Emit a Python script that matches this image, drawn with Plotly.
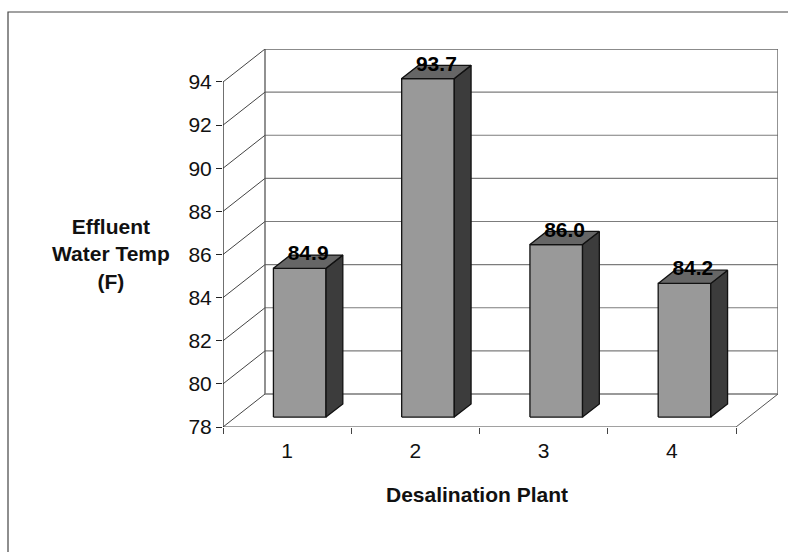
import plotly.graph_objects as go

# ---- data -------------------------------------------------------------
plants = ["1", "2", "3", "4"]
temps = [84.9, 93.7, 86.0, 84.2]
temp_ticks = [78, 80, 82, 84, 86, 88, 90, 92, 94]
value_labels = ["84.9", "93.7", "86.0", "84.2"]

y_title = "Effluent<br>Water Temp<br>(F)"
x_title = "Desalination Plant"

# ---- 3-D look (oblique projection) -----------------------------------
DEPTH_X = 0.3275   # how far the back wall sits to the right (category units)
DEPTH_Y = 1.53     # how far the back wall sits up (temperature units)
BAR_NEAR, BAR_FAR = 0.30, 0.70   # bar depth span as a fraction of the floor depth
BAR_HALF = 0.205                 # half bar width (category units)

Y0, Y1 = temp_ticks[0], temp_ticks[-1]
n = len(plants)
xs = list(range(1, n + 1))
X0, X1 = 0.5, n + 0.5

FONT = "Arial, Liberation Sans, sans-serif"
GRID = "#7c7c7c"
EDGE = "#555555"
FRONT = "#999999"
SIDE = "#3c3c3c"
TOP = "#666666"

# page geometry
W, H = 788, 552
ML, MR, MT, MB = 223, 10, 49, 125
PW, PH = W - ML - MR, H - MT - MB


def px(xp):
    return (xp - ML) / PW


def py(yp):
    return (H - MB - yp) / PH


fig = go.Figure()


def line(xv, yv, color, width=1.0, dash="solid"):
    fig.add_trace(go.Scatter(x=xv, y=yv, mode="lines", hoverinfo="skip",
                             line=dict(color=color, width=width, dash=dash),
                             showlegend=False))


def poly(xv, yv, fill):
    fig.add_trace(go.Scatter(x=xv + [xv[0]], y=yv + [yv[0]], mode="lines",
                             fill="toself", fillcolor=fill, hoverinfo="skip",
                             line=dict(color="#111111", width=1.3),
                             showlegend=False))


# gridlines on the back wall and the left side wall
for t in temp_ticks[1:-1]:
    line([X0 + DEPTH_X, X1 + DEPTH_X], [t + DEPTH_Y, t + DEPTH_Y], GRID, 1.2)
for t in temp_ticks:
    line([X0, X0 + DEPTH_X], [t, t + DEPTH_Y], "#444444", 1.0)

# back wall frame
line([X0 + DEPTH_X, X1 + DEPTH_X, X1 + DEPTH_X],
     [Y1 + DEPTH_Y, Y1 + DEPTH_Y, Y0 + DEPTH_Y], "#666666", 1.4)
line([X0 + DEPTH_X, X0 + DEPTH_X], [Y0 + DEPTH_Y, Y1 + DEPTH_Y], EDGE, 1.3)

# floor
line([X0 + DEPTH_X, X1 + DEPTH_X], [Y0 + DEPTH_Y, Y0 + DEPTH_Y], "#777777", 1.4)
line([X1, X1 + DEPTH_X], [Y0, Y0 + DEPTH_Y], EDGE, 1.0)
line([X0, X1], [Y0, Y0], "#444444", 1.2)

# front value axis line
line([X0, X0], [Y0, Y1], "#222222", 1.3)

# bars: front, side and top faces
dx_bar = (BAR_FAR - BAR_NEAR) * DEPTH_X
dy_bar = (BAR_FAR - BAR_NEAR) * DEPTH_Y
for c, v in zip(xs, temps):
    xl = c - BAR_HALF + BAR_NEAR * DEPTH_X
    xr = c + BAR_HALF + BAR_NEAR * DEPTH_X
    yb = Y0 + BAR_NEAR * DEPTH_Y
    yt = v + BAR_NEAR * DEPTH_Y
    poly([xl, xr, xr, xl], [yb, yb, yt, yt], FRONT)
    poly([xr, xr + dx_bar, xr + dx_bar, xr], [yb, yb + dy_bar, yt + dy_bar, yt], SIDE)
    poly([xl, xr, xr + dx_bar, xl + dx_bar], [yt, yt, yt + dy_bar, yt + dy_bar], TOP)

# value labels sit on the back edge of each bar top
fig.add_trace(go.Scatter(
    x=[c + 0.5 * (BAR_NEAR + BAR_FAR) * DEPTH_X for c in xs],
    y=[v + BAR_FAR * DEPTH_Y for v in temps],
    mode="text", text=value_labels, textposition="middle center",
    textfont=dict(family=FONT, size=21, color="#000000", weight="bold"),
    hoverinfo="skip", showlegend=False, cliponaxis=False))

fig.update_layout(
    width=W, height=H,
    margin=dict(l=ML, r=MR, t=MT, b=MB),
    paper_bgcolor="white", plot_bgcolor="white",
    font=dict(family=FONT, color="#111111"),
    xaxis=dict(range=[X0, X1 + DEPTH_X], tickmode="array", tickvals=xs,
               ticktext=plants, ticks="", showgrid=False, zeroline=False,
               showline=False, tickfont=dict(size=21, family=FONT),
               ticklabelstandoff=9,
               minor=dict(tickmode="array",
                          tickvals=[c - 0.5 for c in xs] + [xs[-1] + 0.5],
                          ticks="outside", ticklen=6, tickcolor="#444444",
                          tickwidth=1, showgrid=False)),
    yaxis=dict(range=[Y0, Y1 + DEPTH_Y], tickmode="array", tickvals=temp_ticks,
               ticks="outside", ticklen=6, tickcolor="#222222", tickwidth=1,
               showgrid=False, zeroline=False, showline=False,
               tickfont=dict(size=21, family=FONT)),
    annotations=[
        dict(text=y_title, xref="paper", yref="paper", x=px(111), y=py(254),
             showarrow=False, align="center", xanchor="center", yanchor="middle",
             font=dict(size=21, family=FONT, weight="bold", color="#111111")),
        dict(text=x_title, xref="paper", yref="paper", x=px(477), y=py(494),
             showarrow=False, xanchor="center", yanchor="middle",
             font=dict(size=21, family=FONT, weight="bold", color="#111111")),
    ],
    shapes=[dict(type="rect", xref="paper", yref="paper",
                 x0=px(8), x1=px(800), y0=py(12), y1=py(600),
                 line=dict(color="#444444", width=1.2), layer="below")],
)

fig.write_html("out.html")
